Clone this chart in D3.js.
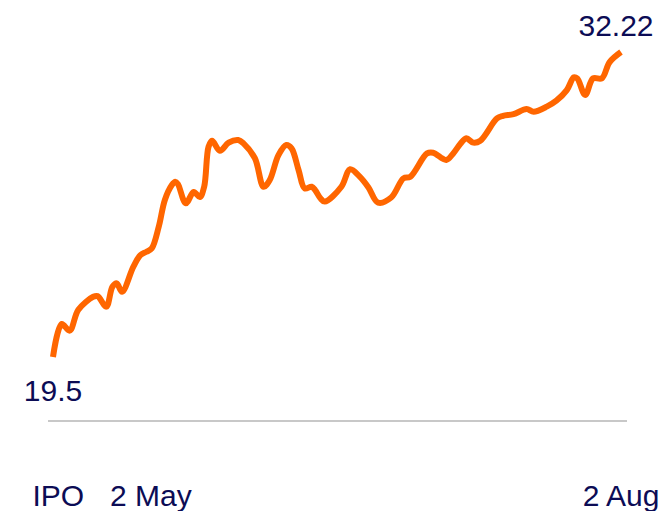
<!DOCTYPE html>
<html>
<head>
<meta charset="utf-8">
<script src="https://cdn.jsdelivr.net/npm/d3@7"></script>
<style>
  html, body { margin: 0; padding: 0; background: #fff; }
  svg { display: block; }
  .lbl { font-family: "Liberation Sans", Arial, sans-serif; font-size: 30px; fill: #0c0c55; }
</style>
</head>
<body>
<script>
const width = 669
const height = 511

// trading days since IPO and closing price
const days = [0, 1.0, 1.9, 2.9, 4.6, 5.1, 6.1, 6.8, 7.3, 7.9, 9.2, 10.0, 10.7, 11.3, 12.1, 12.8,
  13.6, 14.0, 14.3, 15.2, 16.1, 16.8, 17.3, 17.8, 18.2, 19.1, 20.1, 21.2, 21.8, 23.1, 24.1, 24.8,
  25.8, 26.7, 27.3, 28.1, 28.8, 29.6, 30.0, 30.6, 31.1, 33.0, 34.0, 35.1, 36.1, 37.2, 38.7, 40.1,
  40.9, 42.8, 43.5, 45.0, 45.8, 46.6, 47.3, 48.1, 48.9, 50.8, 51.5, 52.7, 54.2, 55.0, 56.5, 57.6,
  58.8, 59.6, 60.0, 60.9, 61.8, 62.8, 63.7, 65]
const prices = [19.5, 20.88, 20.60, 21.47, 22.01, 22.04, 21.60, 22.43, 22.57, 22.22, 23.27, 23.75,
  23.89, 24.03, 24.93, 26.05, 26.67, 26.81, 26.71, 25.91, 26.38, 26.17, 26.60, 28.27, 28.52, 28.10,
  28.44, 28.55, 28.41, 27.79, 26.60, 26.88, 27.92, 28.34, 28.20, 27.30, 26.53, 26.60, 26.46, 26.12,
  25.98, 26.60, 27.33, 27.02, 26.57, 25.94, 26.15, 26.95, 27.02, 27.99, 28.02, 27.72, 27.99, 28.38,
  28.62, 28.44, 28.52, 29.45, 29.56, 29.63, 29.84, 29.73, 29.94, 30.19, 30.63, 31.16, 31.11, 30.43,
  31.12, 31.12, 31.80, 32.22]

const tickDays = [0.6, 11.2, 65]
const tickLabels = ['IPO', '2 May', '2 Aug']

const data = days.map((d, i) => ({day: d, price: prices[i]}))

const x = d3.scaleLinear()
    .domain([0, 65])
    .range([53, 621])

const y = d3.scaleLinear()
    .domain([19.5, 32.22])
    .range([357, 52])

const svg = d3.select('body')
    .append('svg')
    .attr('width', width)
    .attr('height', height)

// baseline
svg.append('line')
    .attr('x1', 48)
    .attr('x2', 627)
    .attr('y1', 421)
    .attr('y2', 421)
    .attr('stroke', '#c8c8c8')
    .attr('stroke-width', 2)

const line = d3.line()
    .x(d => x(d.day))
    .y(d => y(d.price))
    .curve(d3.curveCatmullRom.alpha(0.5))

svg.append('path')
    .datum(data)
    .attr('fill', 'none')
    .attr('stroke', '#ff6600')
    .attr('stroke-width', 6)
    .attr('stroke-linejoin', 'round')
    .attr('d', line)

// first / last price labels
const first = data[0]
const last = data[data.length - 1]

svg.append('text')
    .attr('class', 'lbl')
    .attr('x', x(first.day))
    .attr('y', y(first.price) + 44)
    .attr('text-anchor', 'middle')
    .text(first.price)

svg.append('text')
    .attr('class', 'lbl')
    .attr('x', x(last.day) - 5)
    .attr('y', y(last.price) - 16)
    .attr('text-anchor', 'middle')
    .text(last.price)

// x labels
svg.selectAll('text.tick')
    .data(tickDays)
    .enter()
    .append('text')
    .attr('class', 'lbl tick')
    .attr('x', d => x(d))
    .attr('y', 506)
    .attr('text-anchor', 'middle')
    .text((d, i) => tickLabels[i])
</script>
</body>
</html>
